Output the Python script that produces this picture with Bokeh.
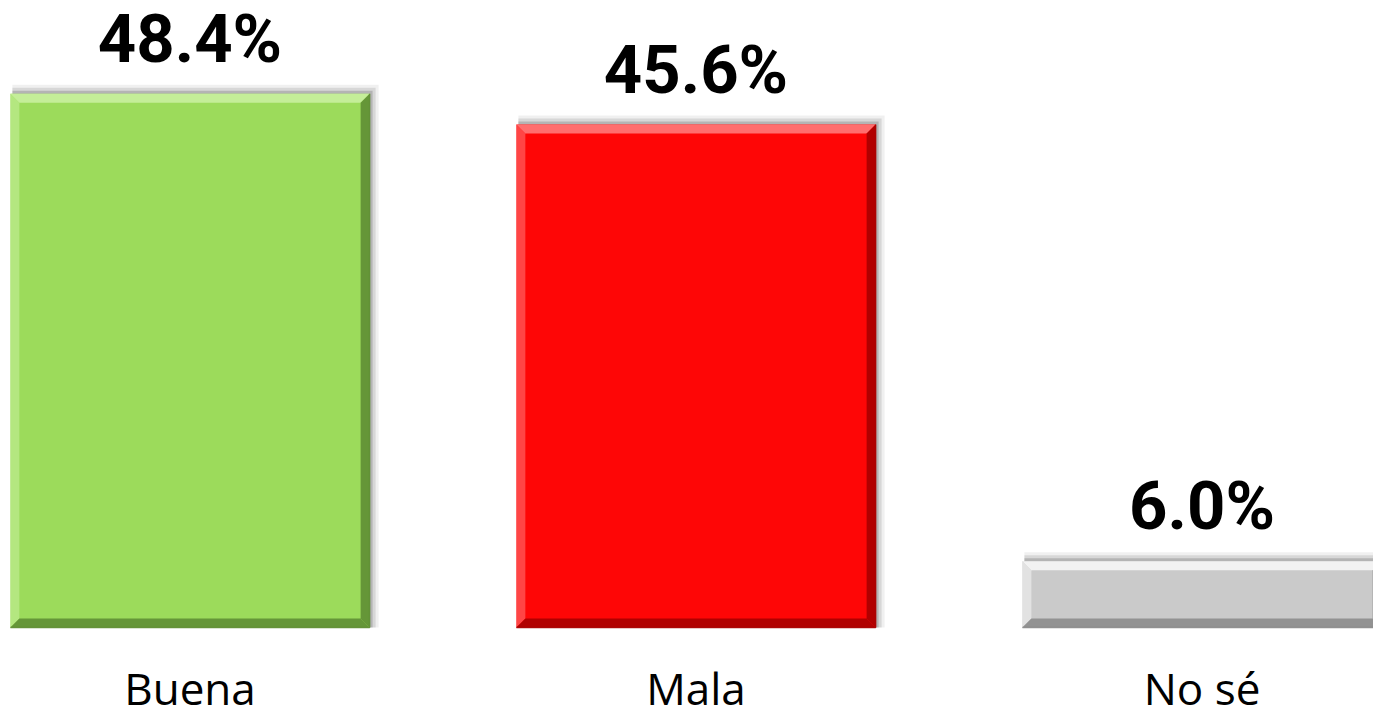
from bokeh.plotting import figure
from bokeh.models import Range1d, ColumnDataSource
from bokeh.core.properties import value
from bokeh.embed import file_html
from bokeh.resources import INLINE

# ---- data ----
categories = ["Buena", "Mala", "No sé"]
percentages = [48.4, 45.6, 6.0]
value_labels = ["48.4%", "45.6%", "6.0%"]
base_colors = ["#9CDB5B", "#FE0606", "#CACACA"]
light_colors = ["#C9F09F", "#FF7A7A", "#F6F6F6"]
dark_colors = ["#5F8E34", "#A80000", "#8C8C8C"]

W, H = 1373, 716
PX_X = 506.0      # pixels per category
PX_Y = 11.03      # pixels per percent
x0 = (0 - 189.5) / PX_X
x1 = (W - 189.5) / PX_X
y1 = 627 / PX_Y
y0 = (627 - H) / PX_Y

p = figure(width=W, height=H, output_backend="svg", toolbar_location=None,
           x_range=Range1d(x0, x1), y_range=Range1d(y0, y1),
           min_border=0, outline_line_color=None)
p.axis.visible = False
p.grid.visible = False
p.background_fill_color = "white"
p.border_fill_color = "white"

xs = list(range(len(categories)))
bw = 0.71
bx = 9 / PX_X   # bevel width in x units
by = 9 / PX_Y   # bevel width in y units

# shadow (soft, offset up-right)
for k, a in [(9, 0.06), (6, 0.10), (3, 0.16)]:
    p.quad(left=[x - bw / 2 + 2 / PX_X for x in xs],
           right=[x + bw / 2 + k / PX_X for x in xs],
           bottom=[0.0] * len(xs),
           top=[v + k / PX_Y for v in percentages],
           fill_color="#000000", fill_alpha=a, line_color=None)

# main bars
src = ColumnDataSource(dict(x=xs, top=percentages, color=base_colors))
p.vbar(x="x", top="top", bottom=0, width=bw, source=src,
       fill_color="color", line_color=None)

# bevel facets
top_xs, top_ys, left_xs, left_ys, right_xs, right_ys, bot_xs, bot_ys = ([] for _ in range(8))
for x, v in zip(xs, percentages):
    L, R, T, B = x - bw / 2, x + bw / 2, v, 0.0
    top_xs.append([L, R, R - bx, L + bx]); top_ys.append([T, T, T - by, T - by])
    left_xs.append([L, L + bx, L + bx, L]); left_ys.append([T, T - by, B + by, B])
    right_xs.append([R, R, R - bx, R - bx]); right_ys.append([T, B, B + by, T - by])
    bot_xs.append([L, R, R - bx, L + bx]); bot_ys.append([B, B, B + by, B + by])

p.patches(xs=left_xs, ys=left_ys, fill_color=light_colors, fill_alpha=0.55, line_color=None)
p.patches(xs=top_xs, ys=top_ys, fill_color=light_colors, fill_alpha=0.9, line_color=None)
p.patches(xs=right_xs, ys=right_ys, fill_color=dark_colors, fill_alpha=0.9, line_color=None)
p.patches(xs=bot_xs, ys=bot_ys, fill_color=dark_colors, fill_alpha=0.9, line_color=None)
# thin dark outer edge on right/bottom
p.multi_line(xs=[[x - bw / 2, x + bw / 2, x + bw / 2] for x in xs],
             ys=[[0, 0, v] for v in percentages],
             line_color=dark_colors, line_width=1.5, line_alpha=0.9)

# value labels
p.text(x=xs, y=[v + 55 / PX_Y for v in percentages], text=value_labels,
       text_font=value("Roboto"), text_font_style="bold",
       text_font_size="67px", text_align="center", text_baseline="alphabetic",
       text_color="black")

# category labels
p.text(x=xs, y=[(627 - 687) / PX_Y] * len(xs), text=categories,
       text_font=value("Open Sans"), text_font_size="44px",
       text_align="center", text_baseline="alphabetic", text_color="black")

open("out.html", "w").write(file_html(p, INLINE))
